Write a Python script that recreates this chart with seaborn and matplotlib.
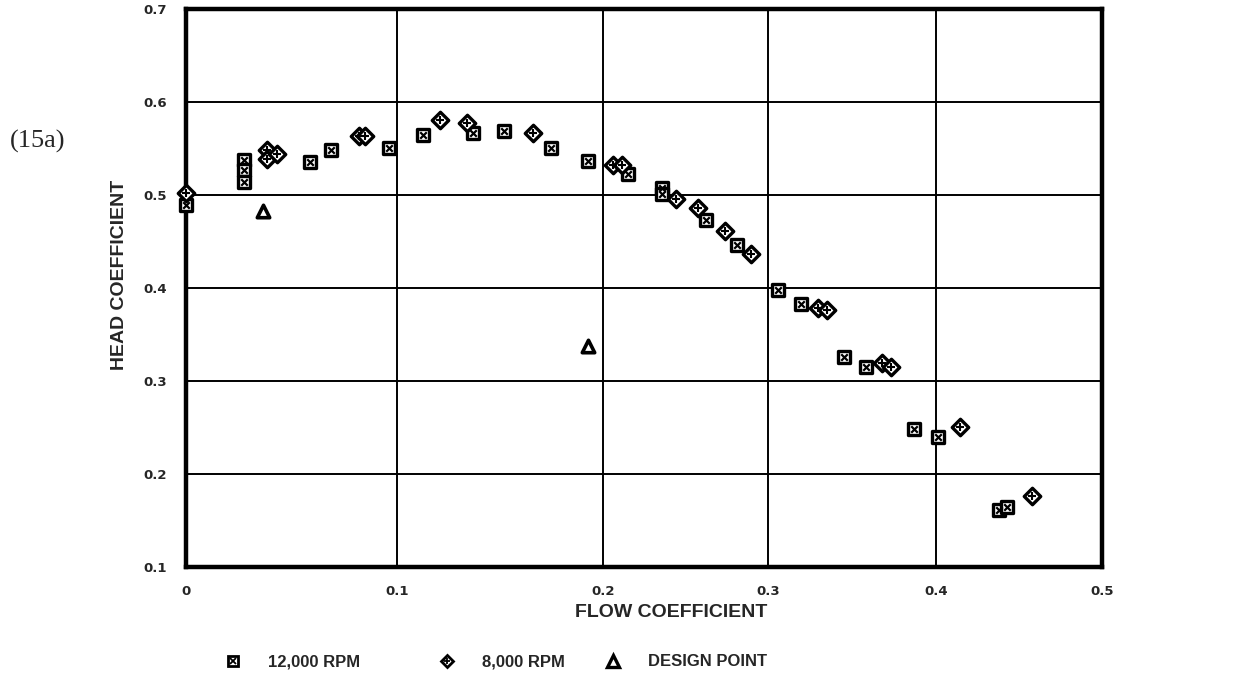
import matplotlib

matplotlib.use("Agg")
import matplotlib.pyplot as plt
import numpy as np
import seaborn as sns
from matplotlib.lines import Line2D

# 12,000 RPM test points
rpm12_flow = [0.0, 0.0275, 0.0275, 0.0275, 0.059, 0.0687, 0.0961, 0.1125, 0.1367, 0.1521,
              0.1746, 0.1929, 0.2153, 0.2356, 0.2356, 0.2624, 0.281, 0.3061, 0.3195,
              0.3452, 0.3583, 0.3871, 0.401, 0.438, 0.443]
rpm12_head = [0.489, 0.538, 0.527, 0.514, 0.536, 0.548, 0.551, 0.564, 0.567, 0.569,
              0.550, 0.537, 0.523, 0.507, 0.501, 0.473, 0.446, 0.398, 0.383,
              0.3255, 0.315, 0.248, 0.240, 0.161, 0.165]

# 8,000 RPM test points
rpm8_flow = [0.0, 0.0382, 0.0382, 0.0433, 0.082, 0.085, 0.1209, 0.1338, 0.1662,
             0.2059, 0.2113, 0.2442, 0.2574, 0.2739, 0.2895, 0.3299, 0.3349,
             0.3677, 0.373, 0.4145, 0.458]
rpm8_head = [0.502, 0.548, 0.539, 0.544, 0.563, 0.563, 0.581, 0.577, 0.567,
             0.532, 0.532, 0.496, 0.486, 0.461, 0.437, 0.379, 0.376,
             0.319, 0.315, 0.250, 0.176]

# design points
design_flow = [0.0363, 0.1929]
design_head = [0.483, 0.338]

x_ticks = [0, 0.1, 0.2, 0.3, 0.4, 0.5]
x_tick_labels = ["0", "0.1", "0.2", "0.3", "0.4", "0.5"]
y_ticks = [0.1, 0.2, 0.3, 0.4, 0.5, 0.6, 0.7]
y_tick_labels = ["0.1", "0.2", "0.3", "0.4", "0.5", "0.6", "0.7"]

# the scanned flow axis is not evenly spaced, so map it piecewise
scan_px = [0, 211, 417, 582, 750, 916]


def _fwd(x):
    return np.interp(x, x_ticks, scan_px)


def _inv(p):
    return np.interp(p, scan_px, x_ticks)


sns.set_style("white")
plt.rcParams["font.family"] = ["Liberation Sans", "DejaVu Sans"]

fig = plt.figure(figsize=(12.53, 6.98), dpi=100)
ax = fig.add_axes([0.1484, 0.1877, 0.731, 0.7994])
ax.set_xscale("function", functions=(_fwd, _inv))

# square with X
sns.scatterplot(x=rpm12_flow, y=rpm12_head, marker="s", s=70, color="white",
                edgecolor="black", linewidth=2.4, ax=ax, zorder=3, clip_on=False)
sns.scatterplot(x=rpm12_flow, y=rpm12_head, marker="x", s=22, color="black",
                linewidth=1.6, ax=ax, zorder=4, clip_on=False)
# diamond with +
sns.scatterplot(x=rpm8_flow, y=rpm8_head, marker="D", s=70, color="white",
                edgecolor="black", linewidth=2.4, ax=ax, zorder=3, clip_on=False)
sns.scatterplot(x=rpm8_flow, y=rpm8_head, marker="+", s=40, color="black",
                linewidth=1.5, ax=ax, zorder=4, clip_on=False)
# design point triangles
sns.scatterplot(x=design_flow, y=design_head, marker="^", s=80, color="white",
                edgecolor="black", linewidth=2.6, ax=ax, zorder=3)

ax.set_xlim(0, 0.5)
ax.set_ylim(0.1, 0.7)
ax.set_xticks(x_ticks)
ax.set_xticklabels(x_tick_labels)
ax.set_yticks(y_ticks)
ax.set_yticklabels(y_tick_labels)
ax.minorticks_off()
tick_font = {"family": "DejaVu Sans", "weight": "bold", "size": 9.5}
for lbl in ax.get_xticklabels() + ax.get_yticklabels():
    lbl.set_fontproperties(tick_font)
ax.tick_params(axis="x", length=0, pad=13)
ax.tick_params(axis="y", length=0, pad=14)
ax.grid(True, color="black", linewidth=1.4)
for sp in ax.spines.values():
    sp.set_visible(True)
    sp.set_color("black")
    sp.set_linewidth(3.2)

ax.set_xlabel("FLOW COEFFICIENT", fontsize=14, fontweight="bold")
ax.set_ylabel("HEAD COEFFICIENT", fontsize=14, fontweight="bold")
ax.xaxis.set_label_coords(0.5295, -0.066)
ax.yaxis.set_label_coords(-0.063, 0.523)

fig.text(0.030, 1 - 141 / 698, "(15a)", family="Liberation Serif", fontsize=19,
         ha="center", va="center")

# legend entries sit at uneven spacing, one small legend each
leg_font = {"family": "Liberation Sans", "weight": "bold", "size": 12}
entries = [
    ((Line2D([], [], ls="none", marker="s", ms=7, mfc="white", mec="black", mew=2.0),
      Line2D([], [], ls="none", marker="x", ms=4, color="black", mew=1.3)),
     "12,000 RPM", 0.1796),
    ((Line2D([], [], ls="none", marker="D", ms=6.5, mfc="white", mec="black", mew=2.0),
      Line2D([], [], ls="none", marker="+", ms=5, color="black", mew=1.3)),
     "8,000 RPM", 0.3504),
    ((Line2D([], [], ls="none", marker="^", ms=8, mfc="white", mec="black", mew=2.4),),
     "DESIGN POINT", 0.4828),
]
for handle, label, xpos in entries:
    fig.legend([handle], [label], loc="center left", bbox_to_anchor=(xpos, 0.0516),
               frameon=False, handlelength=1.0, handletextpad=1.6, borderpad=0,
               borderaxespad=0, prop=leg_font)

plt.savefig("out.png", dpi=100)
plt.close()
